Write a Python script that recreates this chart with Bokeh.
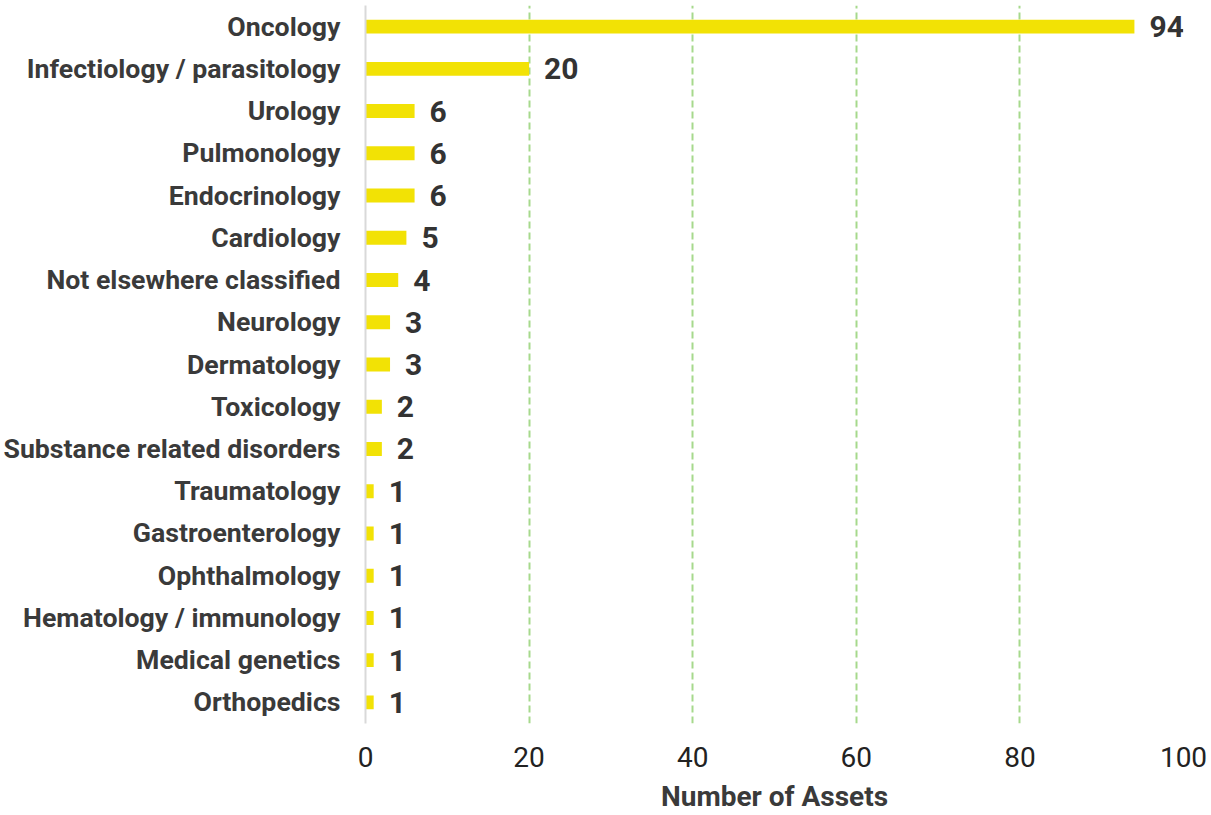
from bokeh.plotting import figure
from bokeh.models import ColumnDataSource, FactorRange, Range1d
from bokeh.core.properties import value
from bokeh.embed import file_html
from bokeh.resources import INLINE

categories = [
    "Oncology", "Infectiology / parasitology", "Urology", "Pulmonology",
    "Endocrinology", "Cardiology", "Not elsewhere classified", "Neurology",
    "Dermatology", "Toxicology", "Substance related disorders", "Traumatology",
    "Gastroenterology", "Ophthalmology", "Hematology / immunology",
    "Medical genetics", "Orthopedics",
]
counts = [94, 20, 6, 6, 6, 5, 4, 3, 3, 2, 2, 1, 1, 1, 1, 1, 1]
x_ticks = [0, 20, 40, 60, 80, 100]
x_title = "Number of Assets"

src = ColumnDataSource(dict(cat=categories, n=counts, lbl=[str(v) for v in counts]))

p = figure(
    width=1211, height=815,
    y_range=FactorRange(factors=categories[::-1], range_padding=0),
    x_range=Range1d(0, 100),
    output_backend="svg", toolbar_location=None,
    min_border_left=365, min_border_right=28, min_border_top=5, min_border_bottom=80,
)
p.outline_line_color = None
p.background_fill_color = "white"

p.hbar(y="cat", right="n", left=0, height=0.33, source=src,
       fill_color="#f2e205", line_color=None)

p.text(x="n", y="cat", text="lbl", source=src, x_offset=15,
       text_align="left", text_baseline="middle",
       text_font=value("Roboto"), text_font_style="bold",
       text_font_size="30px", text_color="#333333")

# x axis
p.xaxis.ticker = x_ticks
p.xaxis.axis_line_color = None
p.xaxis.major_tick_line_color = None
p.xaxis.minor_tick_line_color = None
p.xaxis.major_label_text_font = "Roboto"
p.xaxis.major_label_text_font_size = "28px"
p.xaxis.major_label_text_color = "#222222"
p.xaxis.major_label_standoff = 17
p.xaxis.axis_label = x_title
p.xaxis.axis_label_text_font = "Roboto"
p.xaxis.axis_label_text_font_style = "bold"
p.xaxis.axis_label_text_font_size = "28px"
p.xaxis.axis_label_text_color = "#3a3a3a"
p.xaxis.axis_label_standoff = 10

# y axis
p.yaxis.axis_line_color = "#d9d9d9"
p.yaxis.axis_line_width = 2
p.yaxis.major_tick_line_color = None
p.yaxis.minor_tick_line_color = None
p.yaxis.major_label_text_font = "Roboto"
p.yaxis.major_label_text_font_style = "bold"
p.yaxis.major_label_text_font_size = "26.7px"
p.yaxis.major_label_text_color = "#3a3a3a"
p.yaxis.major_label_standoff = 19

# grids
p.ygrid.grid_line_color = None
p.xgrid.grid_line_color = "#a6d98c"
p.xgrid.grid_line_dash = "7 4"
p.xgrid.grid_line_width = 2

open("out.html", "w").write(file_html(p, INLINE))
